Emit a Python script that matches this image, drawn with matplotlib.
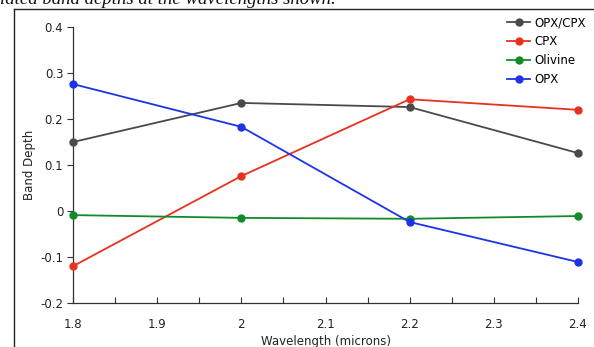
import matplotlib.pyplot as plt
from matplotlib.lines import Line2D

wavelength = [1.8, 2.0, 2.2, 2.4]
opx_cpx = [0.150, 0.235, 0.226, 0.126]
cpx = [-0.120, 0.076, 0.243, 0.220]
olivine = [-0.009, -0.015, -0.017, -0.011]
opx = [0.276, 0.183, -0.024, -0.111]

names = ['OPX/CPX', 'CPX', 'Olivine', 'OPX']
colors = ['#4a4a4a', '#e8321e', '#138a2a', '#1c34e6']

x_ticks = [1.8, 1.9, 2.0, 2.1, 2.2, 2.3, 2.4]
x_minor = [1.85, 1.95, 2.05, 2.15, 2.25, 2.35]
x_labels = ['1.8', '1.9', '2', '2.1', '2.2', '2.3', '2.4']
y_ticks = [-0.2, -0.1, 0, 0.1, 0.2, 0.3, 0.4]
y_labels = ['-0.2', '-0.1', '0', '0.1', '0.2', '0.3', '0.4']

fig = plt.figure(figsize=(5.94, 3.47), dpi=100)
ax = fig.add_axes([0.123, 0.127, 0.850, 0.795])

for vals, name, c in zip([opx_cpx, cpx, olivine, opx], names, colors):
    ax.plot(wavelength, vals, '-o', color=c, lw=1.3, ms=5, label=name,
            clip_on=False, zorder=3)

ax.set_xlim(1.8, 2.4)
ax.set_ylim(-0.2, 0.4)
ax.set_xticks(x_ticks)
ax.set_xticks(x_minor, minor=True)
ax.set_xticklabels(x_labels)
ax.set_yticks(y_ticks)
ax.set_yticklabels(y_labels)

for s in ['top', 'right']:
    ax.spines[s].set_visible(False)
for s in ['left', 'bottom']:
    ax.spines[s].set_color('#333333')
    ax.spines[s].set_linewidth(0.9)

ax.tick_params(axis='x', which='both', direction='in', length=4, width=0.8,
               colors='#333333', labelsize=8.5, labelcolor='#222222', pad=11)
ax.tick_params(axis='y', which='both', direction='out', length=4, width=0.8,
               colors='#333333', labelsize=8.5, labelcolor='#222222', pad=3)

ax.set_xlabel('Wavelength (microns)', fontsize=8.5, color='#222222', labelpad=3)
ax.set_ylabel('Band Depth', fontsize=8.5, color='#222222', labelpad=3)

fig.legend(loc='upper right', bbox_to_anchor=(586 / 594, 1 - 16 / 347),
           bbox_transform=fig.transFigure, frameon=False, fontsize=8.5,
           handlelength=1.9, handletextpad=0.4, labelspacing=0.5,
           borderaxespad=0, borderpad=0)

# page frame and caption text cut off at the top
fig.add_artist(Line2D([14 / 594, 14 / 594], [0, 1 - 9 / 347], color='#222222',
                      lw=1.0, transform=fig.transFigure))
fig.add_artist(Line2D([14 / 594, 1], [1 - 9 / 347, 1 - 9 / 347], color='#222222',
                      lw=1.0, transform=fig.transFigure))
fig.text(0.0, 1 - 4 / 347, 'lated band depths at the wavelengths shown.',
         family='Liberation Serif', style='italic', fontsize=13.5,
         va='baseline', ha='left', color='#111111')

fig.savefig('out.png', dpi=100)
